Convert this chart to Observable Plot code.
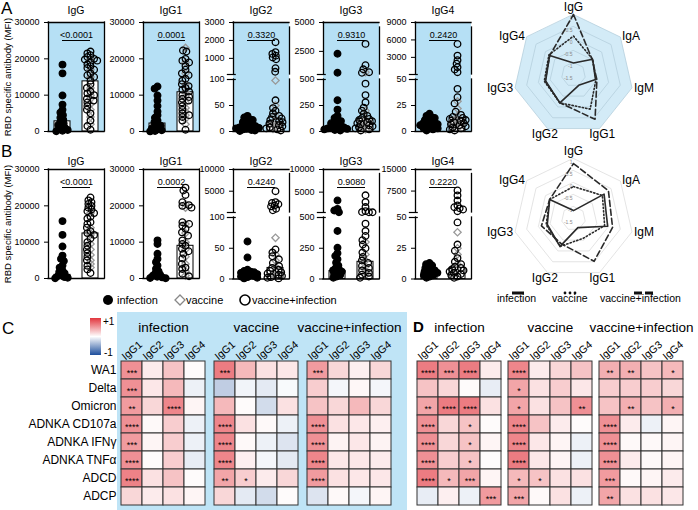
<!DOCTYPE html>
<html><head><meta charset="utf-8">
<script src="https://cdn.jsdelivr.net/npm/d3@7"></script>
<script src="https://cdn.jsdelivr.net/npm/@observablehq/plot@0.6"></script>
<style>
body{margin:0;background:#fff;}
#root{position:relative;width:698px;height:510px;overflow:hidden;font-family:"Liberation Sans",Arial,Helvetica,sans-serif;color:#000;background:#fff;}
.t{position:absolute;white-space:nowrap;line-height:1;}
</style></head><body><div id="root"></div>
<script>
// ---------------- DATA ----------------
const titles = ["IgG","IgG1","IgG2","IgG3","IgG4"];

// Row A (RBD WA1)
const aInfection = [
 [18400,16000,9900,7400,6000,5200,4500,3800,3200,2600,2200,1800,1400,1000,700,400,200,50],
 [12400,11800,9900,8500,7000,5500,4500,3800,3000,2500,2000,1600,1200,900,600,350,150,40],
 [30,27,24,22,20,18,16,14,12,11,10,9,8,7,6,5,4,3,2,1],
 [2300,650,300,210,150,130,110,100,90,80,70,60,50,45,40,35,30,25,20,15,10],
 [17,15,14,13,12,11,10,9,8,8,7,6,6,5,5,4,3,3,2,1]
];
const aVaccine = [
 [20000,17000,15000,12000,10000,9000,7500,6000,4000,2000],
 [23000,19000,16000,13000,11000,9500,8000,6500,5500,4500,3500,2000],
 [98,50,30,20,15,10,5],
 [700,200,120,90,60,40,20],
 [29,22,15,12,9,6,3]
];
const aVacInf = [
 [22000,21500,21000,20500,20000,19800,19500,19000,18500,18000,17500,17000,16000,15500,15000,14000,13000,12000,11000,10500,10000,9000,8500,8000,7000,6000,5000,3000,1500,500],
 [22300,22000,20000,19500,19000,18000,17000,16000,15500,14500,14000,13000,12500,12000,11500,11000,10000,9500,9000,8500,8000,7000,6000,5000,4500,4000,3000,500],
 [1900,1350,1250,1150,1050,950,450,250,60,45,40,35,30,28,25,22,20,18,15,12,10,8,6,4,2],
 [3150,1300,950,700,650,460,350,280,230,200,170,150,130,120,110,100,90,80,70,60,50,40,30,20,10],
 [5300,3300,2500,1900,1300,900,450,41,33,27,19,16,14,13,12,11,10,9,8,7,6,5,4,3,2,1]
];
const aBars = [[2800,13800],[2200,10800],[8,18],[60,120],[8,13]];
const aPvals = ["<0.0001","0.0001","0.3320","0.9310","0.2420"];
const aDomains = [[0,30000],[0,30000],[0,100,3000],[0,500,5000],[0,50,9000]];
const aTicks = [[0,10000,20000,30000],[0,10000,20000,30000],[0,50,100,1000,2000,3000],[0,250,500,2500,5000],[0,25,50,3000,6000,9000]];

// Row B
const bInfection = [
 [15800,12000,8800,6300,5400,4800,3600,3000,2200,1800,1400,1000,700,400,200,50],
 [10500,9500,6800,5400,4500,3600,2700,2000,1500,1100,800,500,300,150,50],
 [61,35,15,13,12,11,10,9,8,7,6,5,4,3,2,1],
 [3150,1300,950,570,390,254,210,187,160,133,110,90,79,70,60,50,40,30,20,10],
 [13,12,11,10,9,8,7,7,6,5,5,4,3,3,2,1]
];
const bVaccine = [
 [18000,14000,12000,9500,8000,6500,5000,4000,3000],
 [20500,19500,15000,12500,10000,8000,6000,4000,2000,800],
 [67,40,30,20,12,8,4],
 [300,200,150,100,60,30],
 [38,25,20,12,8,5]
];
const bVacInf = [
 [22300,21500,21000,20500,20000,19500,19000,18500,18000,17000,16500,15500,15000,14000,13000,12500,12000,11000,10000,9000,8000,7000,6000,5000,3500,2500,1500],
 [25000,24200,23000,21000,20200,20000,19500,15500,15000,14500,13700,12700,11800,10500,9500,9000,8200,7500,6800,5500,4000,3000,2600,1300,600],
 [5000,2500,2300,2000,1700,1500,950,600,48,43,37,32,26,21,18,15,13,11,9,7,5,3,2,1],
 [4300,2800,1700,800,600,560,540,450,390,350,315,280,250,215,180,150,130,106,90,70,50,35,20,10],
 [7700,6000,4200,2500,1900,1500,1100,500,46,28,23,17,14,12,10,9,8,7,6,5,4,3,2,1]
];
const bBars = [[1000,12400],[600,9000],[5,18],[65,140],[5,9]];
const bPvals = ["<0.0001","0.0002","0.4240","0.9080","0.2220"];
const bDomains = [[0,30000],[0,30000],[0,100,10000],[0,500,10000],[0,50,15000]];
const bTicks = [[0,10000,20000,30000],[0,10000,20000,30000],[0,50,100,5000,10000],[0,250,500,5000,10000],[0,25,50,7500,15000]];

// Radar
const radarAxes = ["IgG","IgA","IgM","IgG1","IgG2","IgG3","IgG4"];
const radarRings = [1,0.5,0,-0.5,-1];
const radarRingLabels = [1,0.5,0,-0.5,-1,-1.5];
const radarMin = -1.5;
const radarAInf = [-1.02,-0.48,-0.56,-1.0,-0.19,-0.31,-0.23];
const radarAVac = [0.1,-0.48,-0.54,0.1,-0.19,-0.25,-0.19];
const radarAVI  = [1.0,-0.5,-0.5,0.57,-0.19,-0.29,-0.23];
const radarBInf = [-1.17,0.13,-0.04,-1.08,-0.21,-0.38,-0.23];
const radarBVac = [-0.17,0.04,-0.17,-0.58,-0.21,-0.33,-0.23];
const radarBVI  = [0.79,0.36,0.17,0.48,-0.33,-0.13,-0.23];

// Heatmaps
const hmRows = ["WA1","Delta","Omicron","ADNKA CD107a","ADNKA IFNγ","ADNKA TNFα","ADCD","ADCP"];
const hmCols = ["IgG1","IgG2","IgG3","IgG4"];
const hmGroups = ["infection","vaccine","vaccine+infection"];
const cInf = [[0.55,0.10,0.30,0.02],[0.55,0.12,0.35,-0.08],[0.50,0.20,0.60,0.05],[0.55,0.03,0.25,-0.08],[0.50,0.05,0.25,-0.08],[0.55,0.02,0.25,-0.10],[0.62,0.15,0.30,0.02],[0.20,0.10,0.15,0.05]];
const cVac = [[0.65,0.35,0.15,0.12],[-0.28,-0.06,-0.12,-0.03],[0.35,0.02,-0.2,0.15],[0.6,0.15,0.03,-0.08],[0.6,0.03,-0.08,-0.15],[0.6,0.08,-0.05,-0.12],[0.45,0.25,0.1,0.2],[0.2,-0.12,-0.2,0.02]];
const cVI  = [[0.5,0.2,0.08,0.2],[0.25,-0.05,0.04,-0.05],[0.3,0.2,0.35,0.2],[0.55,0.15,0.12,0.08],[0.55,0.06,0.12,0.06],[0.6,0.12,0.12,0.1],[0.5,0.15,0.12,0.12],[-0.15,0.03,-0.05,0.05]];
const cInfStars = [["***"],["***"],["**","","****"],["****"],["***"],["****"],["****"],[]];
const cVacStars = [["***"],[],[],["****"],["****"],["****"],["**","*"],[]];
const cVIStars  = [["***"],[],[],["****"],["****"],["****"],["****"],[]];
const dInf = [[0.65,0.55,0.65,0.1],[0.3,0.2,0.02,-0.1],[0.45,0.65,0.65,0.15],[0.55,0.2,0.3,0.02],[0.55,0.2,0.3,0.05],[0.55,0.25,0.3,0.02],[0.65,0.35,0.45,0.05],[-0.1,0.08,-0.08,0.5]];
const dVac = [[0.6,0.1,0.2,0.3],[0.45,0.15,0.25,0.12],[0.45,0.15,0.3,0.55],[0.6,0.3,0.1,0.02],[0.6,0.12,0.05,-0.08],[0.65,0.12,0.05,-0.08],[0.35,0.3,0.15,0.15],[0.45,0.03,0.15,-0.08]];
const dVI  = [[0.4,0.4,0.3,0.35],[0.25,0.25,0.25,0.2],[0.3,0.4,0.3,0.4],[0.55,0.1,-0.08,0.05],[0.55,0.03,0.03,0.05],[0.55,0.1,0.03,0.05],[0.5,0.03,0.05,0.1],[0.45,0.15,0.15,0.12]];
const dInfStars = [["****","***","****"],[],["**","****","****"],["****","","*"],["****","","*"],["****","","*"],["****","*","***"],["","","","***"]];
const dVacStars = [["****"],["*"],["*","","","**"],["****"],["****"],["****"],["*","*"],["***"]];
const dVIStars  = [["**","**","","*"],[],["","**","","*"],["****"],["****"],["****"],["***"],["**"]];

// ---------------- LAYOUT HELPERS ----------------
const FONT = '"Liberation Sans", Arial, Helvetica, sans-serif';
const root = document.getElementById("root");
function place(node, left, top){ node.style.position="absolute"; node.style.left=left+"px"; node.style.top=top+"px"; root.appendChild(node); return node; }
function txt(s, x, base, size, anchor="start", extra={}){
  const d=document.createElement("div"); d.className="t"; d.textContent=s;
  d.style.fontSize=size+"px"; d.style.left=x+"px"; d.style.top=(base-0.85*size)+"px";
  if(anchor==="middle") d.style.transform="translateX(-50%)";
  if(anchor==="end") d.style.transform="translateX(-100%)";
  Object.assign(d.style, extra); root.appendChild(d); return d;
}
const plotStyle = {background:"transparent", overflow:"visible", fontFamily:FONT};

// background of panel C
const cbg=document.createElement("div"); cbg.style.width="290px"; cbg.style.height="198px"; cbg.style.background="#bfe4f6"; place(cbg,117,312);

// ---------------- SCATTER PANELS ----------------
const rowTop=[22,169], frameH=109, frameW=56;
const panelLeft=[48,143,233,323,415];
const segPx=[{up:52,gap:5,low:52},{up:43,gap:4.5,low:61.5}];
const bgFill=["#b6e0f5","#ffffff"];

function scatter(row, i, inf, vac, vi, bar, pval, dom, ticks){
  const mt=6, ml=46, mr=4, mb=4, sw=1.3;
  const top=dom[dom.length-1];
  const G=segPx[row];
  const segs = dom.length===2
    ? [{lo:0,hi:top,y0:0,h:frameH,isTop:true,isBot:true}]
    : [{lo:dom[1],hi:top,y0:0,h:G.up,isTop:true,isBot:false},
       {lo:0,hi:dom[1],y0:G.up+G.gap,h:G.low,isTop:false,isBot:true}];
  const allPts=[
    ...inf.map(v=>({g:"inf",v,sym:"circle",f:"black",s:"black"})),
    ...vac.map(v=>({g:"vac",v,sym:"diamond2",f:"none",s:"#999999"})),
    ...vi.map(v=>({g:"vac",v,sym:"circle",f:"none",s:"black"}))
  ];
  const allBars=[{g:"inf",v:bar[0]},{g:"vac",v:bar[1]}];
  const one=[{g:"inf"}];
  for(const seg of segs){
    const inSeg = v => seg.isBot ? (v>=seg.lo && v<=seg.hi) : (v>seg.lo && v<=seg.hi);
    const ext = seg.isBot ? 0 : -G.gap;
    const pts=allPts.filter(d=>inSeg(d.v));
    const bars=allBars.filter(d=>inSeg(d.v));
    const marks=[
      Plot.rect(one,{fx:"g",x1:0,x2:2,y1:seg.lo,y2:seg.hi,fill:bgFill[row],insetBottom:ext}),
      Plot.barY(bars,{fx:"g",y1:seg.lo,y2:"v",fill:"white",stroke:"black",strokeWidth:1,insetLeft:6,insetRight:6}),
      Plot.dot(pts, Plot.dodgeX({anchor:"middle",padding:-3},{fx:"g",y:"v",r:3.3,symbol:"sym",fill:"f",stroke:"s",strokeWidth:1.3})),
      Plot.ruleX(one,{fx:"g",x:0,y1:seg.lo,y2:seg.hi,stroke:"black",strokeWidth:sw,strokeLinecap:"square"}),
      Plot.ruleX(one,{fx:"g",x:2,y1:seg.lo,y2:seg.hi,insetBottom:ext,stroke:"black",strokeWidth:sw,strokeLinecap:"square"})
    ];
    if(seg.isTop){
      marks.push(Plot.ruleY(one,{fx:"g",y:()=>seg.hi,x1:0,x2:2,stroke:"black",strokeWidth:sw,strokeLinecap:"square"}));
      marks.push(Plot.ruleY(one,{fx:"g",y:()=>seg.hi,x1:0.5,x2:1.5,dy:18,stroke:"black",strokeWidth:1}));
      marks.push(Plot.text(one,{fx:"g",x:1,y:()=>seg.hi,dy:13,text:()=>pval,fontSize:9}));
    } else {
      marks.push(Plot.ruleY(one,{fx:"g",y:()=>seg.hi,x1:-0.22,x2:0.1,stroke:"black",strokeWidth:1.2}));
    }
    if(seg.isBot){
      marks.push(Plot.ruleY(one,{fx:"g",y:()=>seg.lo,x1:0,x2:2,stroke:"black",strokeWidth:sw,strokeLinecap:"square"}));
    } else {
      marks.push(Plot.ruleY(one,{fx:"g",y:()=>seg.lo,x1:-0.22,x2:0.1,stroke:"black",strokeWidth:1.2}));
    }
    const p=Plot.plot({
      width:ml+frameW+mr, height:mt+seg.h+mb, marginLeft:ml, marginRight:mr, marginTop:mt, marginBottom:mb,
      style:{...plotStyle, fontSize:"9px"},
      fx:{domain:["inf","vac"], padding:0, axis:null},
      x:{domain:[0,1], axis:null},
      y:{domain:[seg.lo,seg.hi], ticks:ticks.filter(inSeg), tickFormat:d=>String(d), tickSize:4, label:null},
      color:{type:"identity"},
      marks
    });
    place(p, panelLeft[i]-ml, rowTop[row]+seg.y0-mt);
  }
}
for(let i=0;i<5;i++){
  scatter(0,i,aInfection[i],aVaccine[i],aVacInf[i],aBars[i],aPvals[i],aDomains[i],aTicks[i]);
  scatter(1,i,bInfection[i],bVaccine[i],bVacInf[i],bBars[i],bPvals[i],bDomains[i],bTicks[i]);
  txt(titles[i], panelLeft[i]+frameW/2, 13.5, 10.5, "middle");
  txt(titles[i], panelLeft[i]+frameW/2, 164.5, 10.5, "middle");
}
// y labels
for(const cy of [76.5, 223.5]){
  const d=txt("RBD specific antibody (MFI)", 8, 0, 9.5, "start");
  d.style.top=cy+"px"; d.style.transform="translate(-50%,-50%) rotate(-90deg)";
}
// panel letters
txt("A",1,14,17); txt("B",1,157,17); txt("C",2,334,17); txt("D",413,331.5,15,"start",{fontWeight:"bold"});

// scatter legend
const NS="http://www.w3.org/2000/svg";
function svgEl(w,h,inner){ const s=document.createElementNS(NS,"svg"); s.setAttribute("width",w); s.setAttribute("height",h); s.innerHTML=inner; return s; }
place(svgEl(160,16,'<circle cx="8" cy="8" r="5" fill="black"/><polygon points="80,3 85,8 80,13 75,8" fill="white" stroke="#888" stroke-width="1.3"/><circle cx="145" cy="8" r="5" fill="none" stroke="black" stroke-width="1.6"/>'),100,292);
txt("infection",117,304,11); txt("vaccine",186,304,11); txt("vaccine+infection",252,304,11);

// ---------------- RADAR ----------------
function radarPlot(series, shaded){
  const U=24;
  const pos=(v,k)=>({x:(v-radarMin)*Math.sin(k*2*Math.PI/7), y:(v-radarMin)*Math.cos(k*2*Math.PI/7)});
  const ringData=radarRings.flatMap(rv=>radarAxes.map((a,k)=>({ring:rv,...pos(rv,k)})));
  const outer=radarAxes.map((a,k)=>pos(radarRings[0],k));
  const lab=radarAxes.map((a,k)=>{
    const s=Math.sin(k*2*Math.PI/7), c=Math.cos(k*2*Math.PI/7);
    const side=Math.abs(s)>0.5, rr=side?62/U:(c>0?67/U:66/U);
    return {a, x:rr*s, y:rr*c, anchor: side?(s>0?"start":"end"):"middle"};
  });
  const ringLab=radarRingLabels.map(v=>({t:String(v),x:0,y:v-radarMin}));
  const dashes=[undefined,"1.3,2.2","6,3"];
  const marks=[];
  if(shaded) marks.push(Plot.line(outer,{x:"x",y:"y",curve:"linear-closed",fill:"#d3ebf7",stroke:"none"}));
  marks.push(Plot.line(ringData,{x:"x",y:"y",z:"ring",curve:"linear-closed",stroke:shaded?"#b5cfdd":"#dddddd",strokeWidth:0.8}));
  marks.push(Plot.text(ringLab,{x:"x",y:"y",text:"t",fontSize:5,fill:"#8a8a8a",textAnchor:"end",dx:-1,dy:3.5}));
  series.forEach((s,i)=>marks.push(Plot.line(s.map((v,k)=>pos(v,k)),{x:"x",y:"y",curve:"linear-closed",stroke:"#2a2a2a",strokeWidth:1.6,strokeDasharray:dashes[i]})));
  for(const an of ["start","middle","end"]) marks.push(Plot.text(lab.filter(d=>d.anchor===an),{x:"x",y:"y",text:"a",fontSize:12,textAnchor:an}));
  return Plot.plot({width:200,height:160,margin:0,style:plotStyle,
    x:{domain:[-100/U,100/U],axis:null}, y:{domain:[-80/U,80/U],axis:null}, marks});
}
place(radarPlot([radarAInf,radarAVac,radarAVI],true),473,-6);
place(radarPlot([radarBInf,radarBVac,radarBVI],false),473,138);
place(svgEl(160,10,'<line x1="7" x2="19" y1="5" y2="5" stroke="#111" stroke-width="3"/><circle cx="60" cy="5" r="1.4" fill="#111"/><circle cx="65" cy="5" r="1.4" fill="#111"/><circle cx="70" cy="5" r="1.4" fill="#111"/><line x1="129" x2="137" y1="5" y2="5" stroke="#111" stroke-width="3"/><line x1="140" x2="148" y1="5" y2="5" stroke="#111" stroke-width="3"/>'),505,288);
txt("infection",497,302,10.5); txt("vaccine",552,302,10.5); txt("vaccine+infection",600,302,10.5);

// ---------------- HEATMAPS ----------------
function heatTable(blocks, starBlocks){
  const out=[];
  hmGroups.forEach((g,gi)=>hmRows.forEach((r,ri)=>hmCols.forEach((c,ci)=>{
    out.push({g,row:r,col:c,v:blocks[gi][ri][ci],s:(starBlocks[gi][ri]||[])[ci]||""});
  })));
  return out;
}
function heat(left, width, ml, mr, pin, data, showY){
  const marks=[
    Plot.cell(data,{fx:"g",x:"col",y:"row",fill:"v",stroke:"#333",strokeWidth:1}),
    Plot.text(data.filter(d=>d.s),{fx:"g",x:"col",y:"row",text:"s",fontSize:9,dy:2.5}),
    Plot.axisX({anchor:"top",tickSize:0,tickPadding:10,tickRotate:-40,fontSize:10.5,textAnchor:"middle",lineAnchor:"middle",label:null}),
    Plot.axisFx({anchor:"top",tickSize:0,tickPadding:29,fontSize:13.5,label:null})
  ];
  if(showY) marks.push(Plot.axisY({tickSize:0,tickPadding:4,fontSize:12,label:null}));
  const p=Plot.plot({
    width, height:210, marginLeft:ml, marginRight:mr, marginTop:60, marginBottom:3.3,
    style:plotStyle,
    fx:{domain:hmGroups, paddingInner:pin, paddingOuter:0, label:null},
    x:{domain:hmCols, padding:0, label:null},
    y:showY?{domain:hmRows, padding:0, label:null}:{domain:hmRows, padding:0, label:null, axis:null},
    color:{type:"linear", domain:[-1,0,1], range:["#1d4e9c","#ffffff","#e2363e"]},
    marks
  });
  place(p,left,300);
}
heat(0,394,119,2,0.08,heatTable([cInf,cVac,cVI],[cInfStars,cVacStars,cVIStars]),true);
heat(413,275,2,3,0.06,heatTable([dInf,dVac,dVI],[dInfStars,dVacStars,dVIStars]),false);

// color legend
const grad=document.createElement("div"); grad.style.width="11px"; grad.style.height="37px";
grad.style.background="linear-gradient(to bottom,#e2363e,#ffffff,#1d4e9c)"; place(grad,90,318);
txt("+1",103,325,10); txt("-1",104,356,10);
</script></body></html>
